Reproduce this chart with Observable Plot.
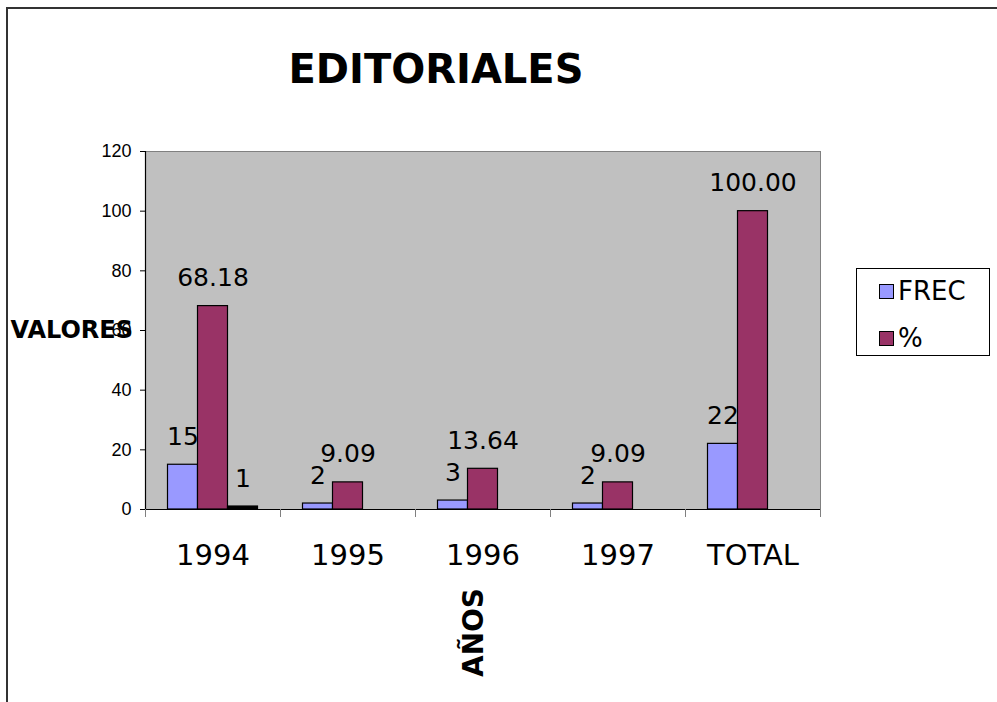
<!DOCTYPE html>
<html>
<head>
<meta charset="utf-8">
<script src="https://cdn.jsdelivr.net/npm/d3@7"></script>
<script src="https://cdn.jsdelivr.net/npm/@observablehq/plot@0.6"></script>
<style>
  body { margin: 0; background: #fff; }
  #wrap { position: relative; width: 997px; height: 702px; overflow: hidden; font-family: "DejaVu Sans", sans-serif; }
  #border { position: absolute; left: 6px; top: 7px; width: 1200px; height: 1200px; border-top: 2px solid #333; border-left: 2px solid #333; }
  #chart { position: absolute; left: 0; top: 0; }
  #title { position: absolute; left: 0; width: 872px; top: 47px; text-align: center; font-weight: bold; font-size: 40px; line-height: 44px; color: #000; }
  #legend { position: absolute; left: 856px; top: 268px; width: 132px; height: 86px; border: 1px solid #000; background: #fff; }
  .item { position: absolute; left: 22px; display: flex; align-items: center; font-size: 26px; color: #000; }
  .sw { width: 13px; height: 13px; border: 1px solid #000; margin-right: 4px; }
</style>
</head>
<body>
<div id="wrap">
  <div id="border"></div>
  <div id="chart"></div>
  <div id="title">EDITORIALES</div>
  <div id="legend"></div>
</div>
<script>
// ---- data ----
const years = ["1994", "1995", "1996", "1997", "TOTAL"];
const frec = [15, 2, 3, 2, 22];
const pct = [68.18, 9.09, 13.64, 9.09, 100.00];
const extra = [1, null, null, null, null];
const seriesNames = ["FREC", "%", ""];
const yTicks = [0, 20, 40, 60, 80, 100, 120];

const colors = ["#9999FF", "#993366", "#000000"];
const offsets = [-30, 0, 30];
const formats = [d3.format("d"), d3.format(".2f"), d3.format("d")];
const seriesValues = [frec, pct, extra];

const rows = [];
seriesValues.forEach((vals, s) => {
  years.forEach((y, i) => {
    if (vals[i] != null) rows.push({ year: y, series: seriesNames[s], s, value: vals[i] });
  });
});

const marks = [
  Plot.frame({ fill: "#C0C0C0", stroke: "#808080" })
];
seriesNames.forEach((name, s) => {
  const data = rows.filter(r => r.s === s);
  marks.push(Plot.barY(data, {
    x: "year", y: "value", fill: colors[s], stroke: "#000", strokeWidth: 1.2,
    insetLeft: 52.5 + offsets[s], insetRight: 52.5 - offsets[s]
  }));
  marks.push(Plot.text(data, {
    x: "year", y: "value", text: d => formats[s](d.value),
    dx: offsets[s], dy: -28, fontSize: 25, fill: "#000"
  }));
});
marks.push(Plot.ruleY([0], { stroke: "#000", strokeWidth: 1.2 }));
marks.push(Plot.axisY({ ticks: yTicks, label: null, tickSize: 5, tickPadding: 9, fontSize: 18, fontFamily: "Liberation Sans", stroke: "#000", fill: "#000" }));
marks.push(Plot.axisX({ label: null, tickSize: 8, tickFormat: () => "", dx: -67.5, stroke: "#808080" }));
marks.push(Plot.axisX({ label: null, ticks: ["TOTAL"], tickSize: 8, tickFormat: () => "", dx: 67.5, stroke: "#808080" }));
marks.push(Plot.text(years, { x: d => d, frameAnchor: "bottom", dy: 55, fontSize: 29, fill: "#000" }));
marks.push(Plot.text(["VALORES"], { frameAnchor: "left", dx: -135, textAnchor: "start", fontWeight: "bold", fontSize: 24, fill: "#000" }));
marks.push(Plot.text(["AÑOS"], { frameAnchor: "bottom", rotate: -90, dy: 123, fontWeight: "bold", fontSize: 28, fill: "#000" }));
marks.push(Plot.ruleX([0], { x: () => years[0], dx: -67.5, stroke: "#000", strokeWidth: 1.2 }));

const chart = Plot.plot({
  width: 997,
  height: 702,
  marginLeft: 145,
  marginRight: 177,
  marginTop: 151,
  marginBottom: 193,
  style: { fontFamily: "DejaVu Sans", background: "transparent", color: "#000" },
  x: { domain: years, padding: 0, axis: null },
  y: { domain: [0, 120], axis: null },
  marks
});
document.getElementById("chart").appendChild(chart);

// legend (only the two named series)
const legend = document.getElementById("legend");
[0, 1].forEach((s, k) => {
  const item = document.createElement("div");
  item.className = "item";
  item.style.top = (k === 0 ? 7 : 54) + "px";
  item.innerHTML = `<span class="sw" style="background:${colors[s]}"></span><span>${seriesNames[s]}</span>`;
  legend.appendChild(item);
});
</script>
</body>
</html>
